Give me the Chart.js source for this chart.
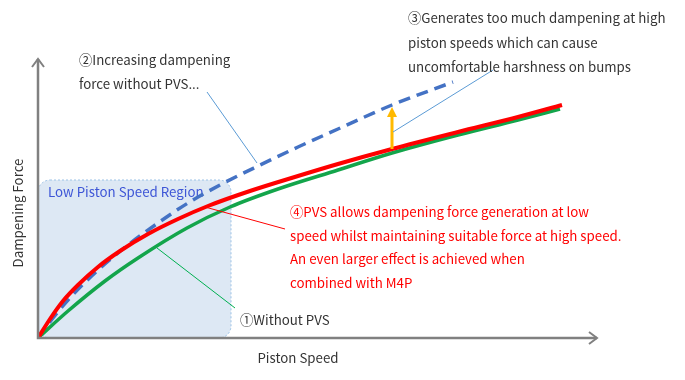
<!DOCTYPE html>
<html>
<head>
<meta charset="utf-8">
<script src="https://cdn.jsdelivr.net/npm/chart.js@4.4.1/dist/chart.umd.min.js"></script>
<style>
html,body{margin:0;padding:0;background:#fff;}
#wrap{width:685px;height:380px;position:relative;}
</style>
</head>
<body>
<div id="wrap"><canvas id="c"></canvas></div>
<script>
// Piston speed (x) and dampening force (y) in arbitrary units
const speedRed   = [0, 12, 25, 40, 60, 82, 110, 140, 170, 212, 260, 300, 354, 420, 480, 524];
const forceRed   = [0, 19, 37, 53, 71, 87, 104, 119, 132, 147, 162, 174, 189, 206, 221, 233];
const speedGreen = [0, 30, 67, 100, 149, 192, 240, 300, 354, 420, 480, 522];
const forceGreen = [0, 27, 57, 80, 110, 131, 149, 168, 185, 203, 218, 229];
const speedBlue  = [0, 15, 30, 60, 90, 120, 150, 182, 220, 260, 300, 354, 415];
const forceBlue  = [0, 20, 38, 68, 93, 115, 135, 153, 172, 191, 209, 233, 256];
// low piston speed region [x0,x1],[y0,y1]
const regionX = [0, 193];
const regionY = [0, 158];
// orange arrow: at speed, from force to force
const arrowSpeed = 354;
const arrowForce = [189, 231];
// leader lines [x1,y1,x2,y2] in data units
const leader2 = [169, 246, 219, 175];
const leader3 = [455, 268, 355, 206];
const leader4 = [167, 131, 247, 109];
const leader1 = [119, 90, 197, 30];

const labelRegion = "Low Piston Speed Region";
const label1 = ["\u2460Without PVS"];
const label2 = ["\u2461Increasing dampening", "force without PVS..."];
const label3 = ["\u2462Generates too much dampening at high", "piston speeds which can cause", "uncomfortable harshness on bumps"];
const label4 = ["\u2463PVS allows dampening force generation at low", "speed whilst maintaining suitable force at high speed.", "An even larger effect is achieved when", "combined with M4P"];
const xTitle = "Piston Speed";
const yTitle = "Dampening Force";

const FONT = '"Noto Sans CJK JP", "Noto Sans", sans-serif';
const FS = '13.3px ';

function pts(xs, ys){ return xs.map((x,i)=>({x:x, y:ys[i]})); }

const deco = {
  id: 'deco',
  beforeDatasetsDraw(chart){
    const ctx = chart.ctx, sx = chart.scales.x, sy = chart.scales.y;
    const x0 = sx.getPixelForValue(regionX[0]), x1 = sx.getPixelForValue(regionX[1]);
    const y0 = sy.getPixelForValue(regionY[1]), y1 = sy.getPixelForValue(regionY[0]);
    ctx.save();
    ctx.beginPath();
    ctx.roundRect(x0, y0, x1-x0, y1-y0, 12);
    ctx.fillStyle = '#dde8f4';
    ctx.fill();
    ctx.setLineDash([2,2]);
    ctx.strokeStyle = '#9dc3e6';
    ctx.lineWidth = 1;
    ctx.stroke();
    ctx.setLineDash([]);
    ctx.font = FS + FONT;
    ctx.fillStyle = '#3d55d6';
    ctx.textBaseline = 'middle';
    ctx.fillText(labelRegion, x0 + 10, y0 + 12);
    ctx.restore();
  },
  afterDatasetsDraw(chart){
    const ctx = chart.ctx, sx = chart.scales.x, sy = chart.scales.y;
    const a = chart.chartArea;
    ctx.save();
    // axes
    ctx.strokeStyle = '#808080';
    ctx.lineWidth = 2.5;
    ctx.beginPath();
    ctx.moveTo(a.left, a.top + 1);
    ctx.lineTo(a.left, a.bottom);
    ctx.lineTo(a.right - 1, a.bottom);
    ctx.stroke();
    ctx.lineWidth = 2;
    ctx.beginPath();
    ctx.moveTo(a.left - 6, a.top + 9); ctx.lineTo(a.left, a.top + 1); ctx.lineTo(a.left + 6, a.top + 9);
    ctx.moveTo(a.right - 9, a.bottom - 6); ctx.lineTo(a.right - 1, a.bottom); ctx.lineTo(a.right - 9, a.bottom + 6);
    ctx.stroke();

    // orange arrow
    const ax = sx.getPixelForValue(arrowSpeed);
    const ayb = sy.getPixelForValue(arrowForce[0]);
    const ayt = sy.getPixelForValue(arrowForce[1]);
    ctx.strokeStyle = '#ffb900';
    ctx.fillStyle = '#ffb900';
    ctx.lineWidth = 3;
    ctx.beginPath();
    ctx.moveTo(ax, ayb); ctx.lineTo(ax, ayt + 8);
    ctx.stroke();
    ctx.beginPath();
    ctx.moveTo(ax, ayt); ctx.lineTo(ax - 5, ayt + 10); ctx.lineTo(ax + 5, ayt + 10); ctx.closePath();
    ctx.fill();

    // leader lines
    function leader(l, color){
      ctx.strokeStyle = color; ctx.lineWidth = 1;
      ctx.beginPath();
      ctx.moveTo(sx.getPixelForValue(l[0]), sy.getPixelForValue(l[1]));
      ctx.lineTo(sx.getPixelForValue(l[2]), sy.getPixelForValue(l[3]));
      ctx.stroke();
    }
    leader(leader2, '#5b9bd5');
    leader(leader3, '#5b9bd5');
    leader(leader4, '#ff0000');
    leader(leader1, '#00b050');

    // texts
    ctx.textBaseline = 'middle';
    ctx.font = FS + FONT;
    function lines(arr, x, y, gap, color){
      ctx.fillStyle = color;
      arr.forEach((t,i)=>ctx.fillText(t, x, y + i*gap));
    }
    lines(label2, 79, 60, 23.5, '#333333');
    lines(label3, 408, 18, 24.5, '#333333');
    lines(label4, 290, 212, 23.5, '#ff0000');
    lines(label1, 240, 320, 23, '#333333');
    ctx.fillStyle = '#333333';
    ctx.textAlign = 'center';
    ctx.fillText(xTitle, 298, 358);
    ctx.translate(18, 213);
    ctx.rotate(-Math.PI/2);
    ctx.fillText(yTitle, 0, 0);
    ctx.restore();
  }
};

new Chart(document.getElementById('c'), {
  type: 'scatter',
  data: {
    datasets: [
      { label: 'PVS', data: pts(speedRed, forceRed), showLine: true, borderColor: '#ff0000', borderWidth: 4, pointRadius: 0, cubicInterpolationMode: 'monotone' },
      { label: 'Without PVS', data: pts(speedGreen, forceGreen), showLine: true, borderColor: '#13a54b', borderWidth: 3.5, pointRadius: 0, cubicInterpolationMode: 'monotone' },
      { label: 'Increasing dampening', data: pts(speedBlue, forceBlue), showLine: true, borderColor: '#4472c4', borderWidth: 3.5, borderDash: [12, 7], pointRadius: 0, cubicInterpolationMode: 'monotone' }
    ]
  },
  options: {
    responsive: true,
    maintainAspectRatio: false,
    animation: false,
    layout: { padding: { left: 38, right: 87, top: 58, bottom: 42 } },
    plugins: { legend: { display: false }, tooltip: { enabled: false } },
    scales: {
      x: { type: 'linear', min: 0, max: 560, display: false },
      y: { type: 'linear', min: 0, max: 280, display: false }
    }
  },
  plugins: [deco]
});
</script>
</body>
</html>
